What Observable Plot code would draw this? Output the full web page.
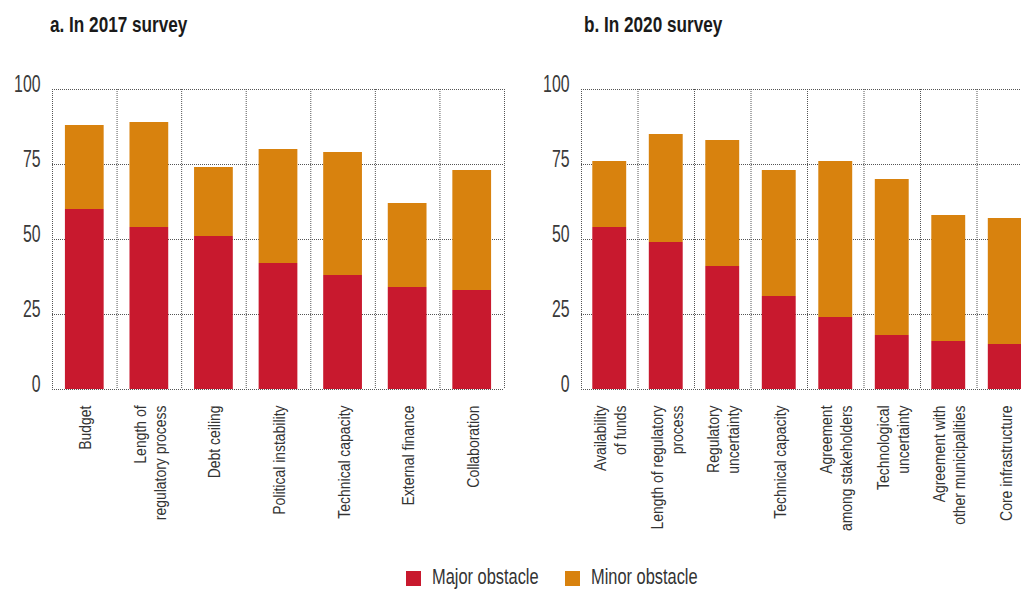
<!DOCTYPE html>
<html>
<head>
<meta charset="utf-8">
<script src="https://cdn.jsdelivr.net/npm/d3@7"></script>
<script src="https://cdn.jsdelivr.net/npm/@observablehq/plot@0.6"></script>
<style>
  body { margin: 0; background: #fff; }
  #wrap { position: relative; width: 1021px; height: 589px; overflow: hidden;
          font-family: "Liberation Sans", Arial, sans-serif; }
  .title { position: absolute; top: 14px; font-size: 22px; line-height: 22px; font-weight: bold; color: #1a1a1a;
           white-space: nowrap; transform: scaleX(0.78); transform-origin: 0 0; }
  .panel { position: absolute; top: 0; width: 520px; height: 560px; }
  .panel svg { max-width: none !important; }
  .sw { position: absolute; top: 571px; width: 15px; height: 15px; }
  .lt { position: absolute; top: 565px; font-size: 22px; line-height: 24px; color: #333; white-space: nowrap;
        transform: scaleX(0.745); transform-origin: 0 0; }
</style>
</head>
<body>
<div id="wrap">
  <div class="title" style="left:50px">a. In 2017 survey</div>
  <div class="title" style="left:584px">b. In 2020 survey</div>
  <div class="panel" id="p1" style="left:0px"></div>
  <div class="panel" id="p2" style="left:529px"></div>
  <div id="legend"></div>
</div>
<script>
// ---- data ----
const categories2017 = ["Budget", "Length of\nregulatory process", "Debt ceiling", "Political instability",
  "Technical capacity", "External finance", "Collaboration"];
const major2017 = [60, 54, 51, 42, 38, 34, 33];
const minor2017 = [28, 35, 23, 38, 41, 28, 40];

const categories2020 = ["Availability\nof funds", "Length of regulatory\nprocess", "Regulatory\nuncertainty",
  "Technical capacity", "Agreement\namong stakeholders", "Technological\nuncertainty",
  "Agreement with\nother municipalities", "Core infrastructure"];
const major2020 = [54, 49, 41, 31, 24, 18, 16, 15];
const minor2020 = [22, 36, 42, 42, 52, 52, 42, 42];

const seriesNames = ["Major obstacle", "Minor obstacle"];
const seriesColors = ["#c8192e", "#d8820e"];
const yTicks = [0, 25, 50, 75, 100];

// ---- chart ----
const W = 520, ML = 52, MR = 16;
const gridStyle = {stroke: "#555", strokeDasharray: "1,1", strokeWidth: 1};
const Y_FS = 24, X_FS = 17;

function panel(cats, major, minor) {
  const rows = cats.flatMap((c, i) => [
    {cat: c, type: seriesNames[0], value: major[i]},
    {cat: c, type: seriesNames[1], value: minor[i]}
  ]);
  const step = (W - ML - MR) / cats.length;
  return Plot.plot({
    width: W, height: 560,
    marginTop: 89, marginBottom: 171, marginLeft: ML, marginRight: MR,
    x: {domain: cats, paddingInner: 0.4, paddingOuter: 0.2, round: false, label: null},
    y: {domain: [0, 100], label: null},
    color: {domain: seriesNames, range: seriesColors},
    style: {fontFamily: '"Liberation Sans", Arial, sans-serif',
            fontSize: X_FS + "px", color: "#333", background: "transparent", overflow: "visible"},
    marks: [
      Plot.ruleY(yTicks, gridStyle),
      Plot.ruleX(cats, {...gridStyle, dx: -step / 2}),
      Plot.ruleX([cats[cats.length - 1]], {...gridStyle, dx: step / 2}),
      Plot.barY(rows, {x: "cat", y: "value", fill: "type"}),
      Plot.axisY({ticks: yTicks, tickSize: 0, tickPadding: 12, fontSize: Y_FS, dy: 2 - 0.32 * Y_FS,
                  fill: "#3a3a3a", label: null}),
      Plot.axisX({tickSize: 0, tickRotate: -90, tickPadding: 16, fontSize: X_FS, lineHeight: 1.2,
                  fill: "#333", label: null})
    ]
  });
}

// simulate a condensed face by compressing glyphs along the text direction
function condense(svg, selector, factor) {
  svg.querySelectorAll(selector + " text").forEach(t => {
    const spans = t.querySelectorAll("tspan");
    const targets = spans.length ? Array.from(spans) : [t];
    targets.forEach(el => {
      const L = el.getComputedTextLength();
      el.setAttribute("textLength", (L * factor).toFixed(2));
      el.setAttribute("lengthAdjust", "spacingAndGlyphs");
    });
  });
}

[["p1", categories2017, major2017, minor2017], ["p2", categories2020, major2020, minor2020]].forEach(([id, c, a, b]) => {
  const svg = panel(c, a, b);
  document.getElementById(id).appendChild(svg);
  condense(svg, 'g[aria-label="y-axis tick label"]', 0.66);
  condense(svg, 'g[aria-label="x-axis tick label"]', 0.82);
});

const lg = document.getElementById("legend");
const legendX = [406, 565];
seriesNames.forEach((n, i) => {
  const sw = document.createElement("div");
  sw.className = "sw";
  sw.style.left = legendX[i] + "px";
  sw.style.background = seriesColors[i];
  const t = document.createElement("div");
  t.className = "lt";
  t.style.left = (legendX[i] + 26) + "px";
  t.textContent = n;
  lg.appendChild(sw); lg.appendChild(t);
});
</script>
</body>
</html>
